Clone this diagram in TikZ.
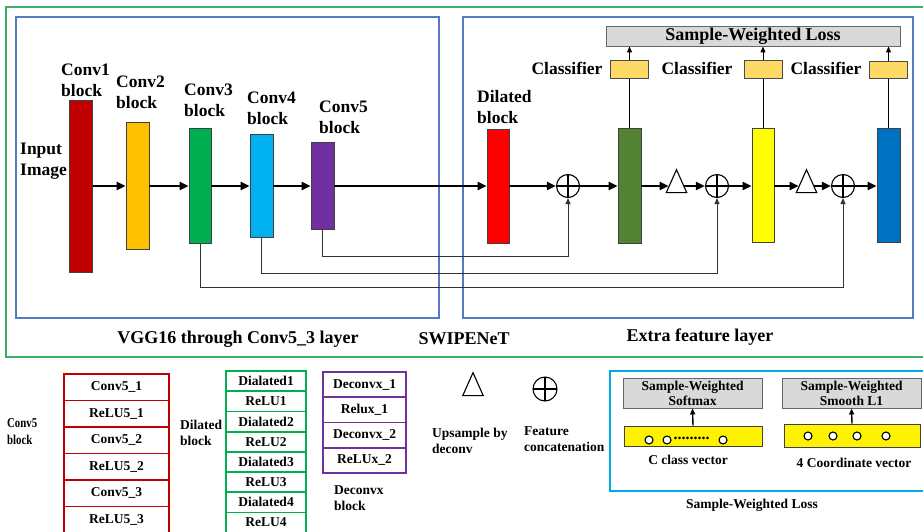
\documentclass[tikz,border=0pt]{standalone}
\usepackage{graphicx}
\usepackage{fontspec}
\setmainfont{Liberation Serif}
\newcommand{\narrowword}[1]{\scalebox{0.8}[1]{#1}}
\usetikzlibrary{arrows.meta,shapes.geometric}
\definecolor{frameGreen}{RGB}{60,176,100}
\definecolor{frameBlue}{RGB}{84,124,196}
\definecolor{frameCyan}{RGB}{0,170,230}
\definecolor{cOne}{RGB}{192,0,0}
\definecolor{cTwo}{RGB}{255,192,0}
\definecolor{cThree}{RGB}{0,176,80}
\definecolor{cFour}{RGB}{0,176,240}
\definecolor{cFive}{RGB}{112,48,160}
\definecolor{cDil}{RGB}{255,0,0}
\definecolor{cExA}{RGB}{84,130,53}
\definecolor{cExB}{RGB}{255,255,0}
\definecolor{cExC}{RGB}{0,112,192}
\definecolor{clsFill}{RGB}{255,217,102}
\definecolor{lossFill}{RGB}{217,217,217}
\definecolor{legRed}{RGB}{192,0,0}
\definecolor{legGreen}{RGB}{0,176,80}
\definecolor{legPurple}{RGB}{112,48,160}
\begin{document}
\begin{tikzpicture}[x=1pt,y=-1pt,
  lbl/.style={font=\bfseries\fontsize{17.5}{21}\selectfont, inner sep=0pt, align=left, anchor=west},
  captext/.style={font=\bfseries\fontsize{18}{21}\selectfont, inner sep=0pt},
  sml/.style={font=\bfseries\fontsize{13.5}{15.5}\selectfont, inner sep=0pt},
  blk/.style={draw=black!75, line width=0.8pt, inner sep=0pt, minimum width=23pt},
  flow/.style={line width=2.8pt, -{Triangle[length=9pt,width=8pt]}},
  skipline/.style={draw=black!80, line width=1pt, -{Triangle[length=6pt,width=5pt]}},
  upline/.style={line width=1pt, -{Triangle[length=6pt,width=5pt]}},
  cat/.style={circle, draw, line width=1.1pt, minimum size=23pt, inner sep=0pt,
    path picture={\draw[line width=1.1pt]
      (path picture bounding box.north) -- (path picture bounding box.south)
      (path picture bounding box.west) -- (path picture bounding box.east);}},
  upsample/.style={isosceles triangle, isosceles triangle apex angle=48,
    shape border rotate=90, draw, line width=1.1pt, inner sep=0pt,
    minimum height=23pt, fill=white},
  cell/.style={draw, line width=1.8pt, fill=white, inner sep=0pt,
    font=\bfseries\fontsize{13.5}{15.5}\selectfont},
  cls/.style={draw=black!70, line width=0.8pt, fill=clsFill, minimum width=38pt,
    minimum height=17.5pt, inner sep=0pt},
  vec/.style={draw=black!75, line width=0.9pt, fill=yellow, inner sep=0pt},
  dot/.style={circle, draw, line width=1.1pt, fill=white, minimum size=8pt, inner sep=0pt},
  lossbox/.style={draw=black!60, line width=0.9pt, fill=lossFill, inner sep=0pt,
    font=\bfseries\fontsize{13.5}{15}\selectfont, align=center}
]
\useasboundingbox (0,0) rectangle (923,531);

% frames
\draw[frameGreen, line width=2.4pt] (940,7) -- (6,7) -- (6,357) -- (940,357);
\draw[frameBlue, line width=1.6pt] (16,17) rectangle (439,318);
\draw[frameBlue, line width=1.6pt] (463,17) rectangle (913,318);
\node[captext] (vggcap) at (238,339) {VGG16 through Conv5\_3 layer};
\node[captext] (swcap) at (464,339) {SWIPENeT};
\node[captext] (excap) at (700,337) {Extra feature layer};

% backbone blocks
\node[blk, fill=cOne, minimum height=172pt] (c1) at (81,186) {};
\node[blk, fill=cTwo, minimum height=127pt] (c2) at (137.5,186) {};
\node[blk, fill=cThree, minimum height=115pt, minimum width=22pt] (c3) at (200,186) {};
\node[blk, fill=cFour, minimum height=103pt] (c4) at (261.5,186) {};
\node[blk, fill=cFive, minimum height=87pt] (c5) at (322.5,186) {};

\node[lbl] (tin) at (20,161) {Input\\Image};
\node[lbl] (t1) at (61,80) {Conv1\\block};
\node[lbl] (t2) at (116,92) {Conv2\\block};
\node[lbl] (t3) at (184,100) {Conv3\\block};
\node[lbl] (t4) at (247,108) {Conv4\\block};
\node[lbl] (t5) at (319,117) {Conv5\\block};

% extra feature layers
\node[blk, fill=cDil, minimum height=114pt, minimum width=22pt] (dil) at (498,186) {};
\node[lbl] (tdil) at (477,107) {Dilated\\block};
\node[cat] (o1) at (568,186) {};
\node[blk, fill=cExA, minimum height=115pt] (ea) at (629.5,186) {};
\node[upsample] (u1) at (676.5,186) {};
\node[cat] (o2) at (717,186) {};
\node[blk, fill=cExB, minimum height=114pt, minimum width=22pt] (eb) at (763,185) {};
\node[upsample] (u2) at (806.5,186) {};
\node[cat] (o3) at (843,186) {};
\node[blk, fill=cExC, minimum height=114pt] (ec) at (888.5,185) {};

% main flow
\draw[flow] (c1.east) -- (c2.west);
\draw[flow] (c2.east) -- (c3.west);
\draw[flow] (c3.east) -- (c4.west);
\draw[flow] (c4.east) -- (c5.west);
\draw[flow] (c5.east) -- (dil.west);
\draw[flow] (dil.east) -- (o1.west);
\draw[flow] (o1.east) -- (ea.west);
\draw[flow] (ea.east) -- (u1);
\draw[flow] (u1) -- (o2.west);
\draw[flow] (o2.east) -- (eb.west |- o2.east);
\draw[flow] (eb.east |- u2) -- (u2);
\draw[flow] (u2) -- (o3.west);
\draw[flow] (o3.east) -- (ec.west |- o3.east);

% skip connections
\coordinate (ya) at (0,256);
\coordinate (yb) at (0,273);
\coordinate (yc) at (0,287);
\draw[skipline] (c5.south) |- (o1 |- ya) -- (o1.south);
\draw[skipline] (c4.south) |- (o2 |- yb) -- (o2.south);
\draw[skipline] (c3.south) |- (o3 |- yc) -- (o3.south);

% classifiers and loss
\node[lossbox, minimum width=294pt, minimum height=20pt,
  font=\bfseries\fontsize{18}{20}\selectfont] (loss) at (753,36) {Sample-Weighted Loss};
\node[cls] (k1) at (629.5,69.5) {};
\node[cls] (k2) at (763,69.5) {};
\node[cls] (k3) at (888.5,70) {};
\node[lbl, anchor=center] (tk1) at (567,68) {Classifier};
\node[lbl, anchor=center] (tk2) at (697,68) {Classifier};
\node[lbl, anchor=center] (tk3) at (826,68) {Classifier};
\draw[line width=0.9pt] (ea.north) -- (k1.south);
\draw[line width=0.9pt] (eb.north) -- (k2.south);
\draw[line width=0.9pt] (ec.north) -- (k3.south);
\draw[upline] (k1.north) -- (k1.north |- loss.south);
\draw[upline] (k2.north) -- (k2.north |- loss.south);
\draw[upline] (k3.north) -- (k3.north |- loss.south);

% ---- legend: Conv5 block ----
\node[inner sep=0pt, align=left, anchor=west,
  font=\bfseries\fontsize{13.5}{17}\selectfont] (lc5) at (7,432)
  {\narrowword{Conv5}\\\narrowword{block}};
\foreach \t [count=\i] in {Conv5\_1, ReLU5\_1, Conv5\_2, ReLU5\_2, Conv5\_3, ReLU5\_3}
  \node[cell, draw=legRed, minimum width=105pt, minimum height=26.5pt]
    (r\i) at (116.5, {374+26.5*(\i-0.5)}) {\t};

% ---- legend: Dilated block ----
\node[sml, align=left, anchor=west] (ldil) at (180,433) {Dilated\\block};
\foreach \t [count=\i] in {Dialated1, ReLU1, Dialated2, ReLU2, Dialated3, ReLU3, Dialated4, ReLU4}
  \node[cell, draw=legGreen, minimum width=80pt, minimum height=20.2pt]
    (g\i) at (266, {371+20.2*(\i-0.5)}) {\t};

% ---- legend: Deconvx block ----
\foreach \t [count=\i] in {Deconvx\_1, Relux\_1, Deconvx\_2, ReLUx\_2}
  \node[cell, draw=legPurple, minimum width=83pt, minimum height=25.25pt]
    (p\i) at (364.5, {372+25.25*(\i-0.5)}) {\t};
\node[sml, align=left, anchor=west] (ldec) at (334,498) {Deconvx\\block};

% ---- legend: symbols ----
\node[upsample] (lu) at (473,389) {};
\node[sml, align=left, anchor=west] (lut) at (432,441) {Upsample by\\deconv};
\node[cat, minimum size=24pt] (lo) at (545,389) {};
\node[sml, align=left, anchor=west] (lot) at (524,439) {Feature\\concatenation};

% ---- legend: sample-weighted loss ----
\draw[frameCyan, line width=2pt] (940,371) -- (610,371) -- (610,491) -- (940,491);
\node[sml] (lcap) at (752,505) {Sample-Weighted Loss};
\node[lossbox, minimum width=139pt, minimum height=30pt] (sm) at (692.5,393) {Sample-Weighted\\Softmax};
\node[lossbox, minimum width=139pt, minimum height=30pt] (sl) at (851.5,393) {Sample-Weighted\\Smooth L1};
\node[vec, minimum width=138pt, minimum height=20pt] (v1) at (693,436) {};
\node[vec, minimum width=136pt, minimum height=23pt] (v2) at (852,435.5) {};
\draw[upline, line width=1.4pt] (v1.north) -- (sm.south);
\draw[upline, line width=1.4pt] (v2.north) -- (sl.south);
\node[dot] (d1) at (649,440) {};
\node[dot] (d2) at (667,440) {};
\node[dot] (d3) at (723,440) {};
\node[inner sep=0pt, font=\bfseries\fontsize{16}{16}\selectfont] (dd) at (691.5,438) {.........};
\node[dot] (e1) at (808,436) {};
\node[dot] (e2) at (833,436) {};
\node[dot] (e3) at (857,436) {};
\node[dot] (e4) at (886,436) {};
\node[sml] (vc1) at (688,460) {C class vector};
\node[sml] (vc2) at (854,463) {4 Coordinate vector};
\end{tikzpicture}
\end{document}
